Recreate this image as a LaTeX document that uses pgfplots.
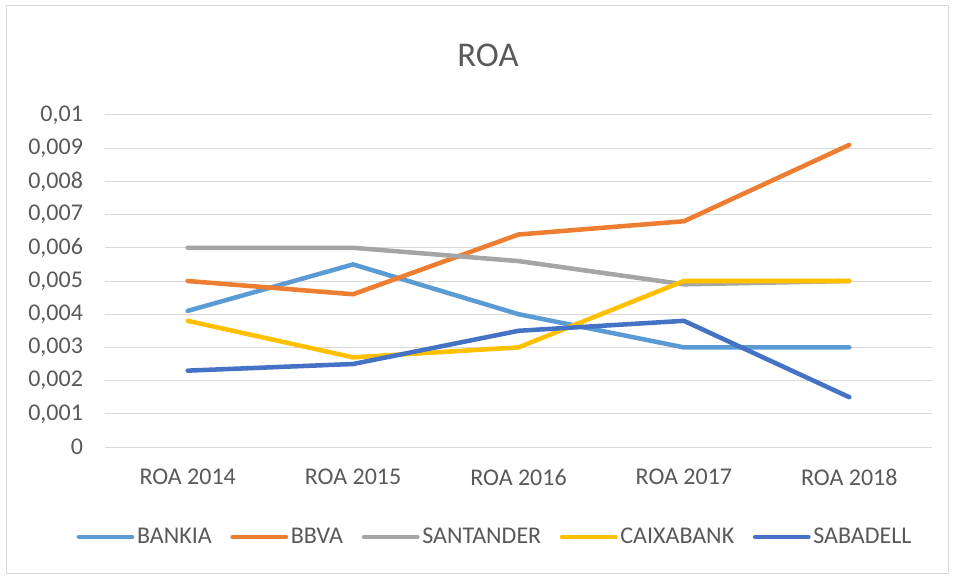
\documentclass[border=0pt]{standalone}
\usepackage{pgfplots}
\pgfplotsset{compat=1.18}
\usepackage{fontspec}
\setmainfont{Carlito}
\definecolor{cBankia}{HTML}{5B9BD5}
\definecolor{cBbva}{HTML}{ED7D31}
\definecolor{cSant}{HTML}{A5A5A5}
\definecolor{cCaixa}{HTML}{FFC000}
\definecolor{cSab}{HTML}{4472C4}
\definecolor{txt}{HTML}{595959}
\definecolor{gridc}{HTML}{D9D9D9}
\begin{document}
\begin{tikzpicture}
% 1 px of the reference = 0.75pt, origin at bottom-left
\useasboundingbox (0pt,0pt) rectangle (716.25pt,434.25pt);
\draw[gridc, line width=0.75pt] (4.875pt,4.125pt) rectangle (711.375pt,430.125pt);
\node[txt, font=\fontsize{26}{30}\selectfont] at (366pt,393pt) {ROA};
\begin{axis}[
  at={(78.75pt,99pt)}, anchor=south west,
  scale only axis,
  width=620.25pt, height=249pt,
  xmin=-0.5, xmax=4.5,
  ymin=0, ymax=0.01,
  scaled y ticks=false,
  axis line style={draw=none},
  tick style={draw=none},
  xtick={0,1,2,3,4},
  xticklabels={ROA 2014,ROA 2015,ROA 2016,ROA 2017,ROA 2018},
  ytick={0,0.001,0.002,0.003,0.004,0.005,0.006,0.007,0.008,0.009,0.01},
  yticklabels={0,{0,001},{0,002},{0,003},{0,004},{0,005},{0,006},{0,007},{0,008},{0,009},{0,01}},
  ymajorgrids,
  grid style={gridc, line width=0.75pt},
  ticklabel style={txt, font=\fontsize{18}{22}\selectfont},
  yticklabel style={xshift=-13pt},
  xticklabel style={yshift=-13pt},
  every axis plot/.append style={line width=3.4pt, line cap=round, line join=round},
  legend columns=5,
  legend style={at={(0.472,-0.271)}, anchor=center, draw=none, fill=none,
    font=\fontsize{18}{22}\selectfont, text=txt,
    /tikz/every even column/.append style={column sep=12pt}},
  legend cell align=left,
  legend image code/.code={\draw[#1] (0pt,0pt) -- (40pt,0pt);},
]
\addplot[cBankia] coordinates {(0,0.0041)(1,0.0055)(2,0.0040)(3,0.0030)(4,0.0030)};
\addplot[cBbva] coordinates {(0,0.0050)(1,0.0046)(2,0.0064)(3,0.0068)(4,0.0091)};
\addplot[cSant] coordinates {(0,0.0060)(1,0.0060)(2,0.0056)(3,0.0049)(4,0.0050)};
\addplot[cCaixa] coordinates {(0,0.0038)(1,0.0027)(2,0.0030)(3,0.0050)(4,0.0050)};
\addplot[cSab] coordinates {(0,0.0023)(1,0.0025)(2,0.0035)(3,0.0038)(4,0.0015)};
\legend{BANKIA,BBVA,SANTANDER,CAIXABANK,SABADELL}
\end{axis}
\end{tikzpicture}
\end{document}
